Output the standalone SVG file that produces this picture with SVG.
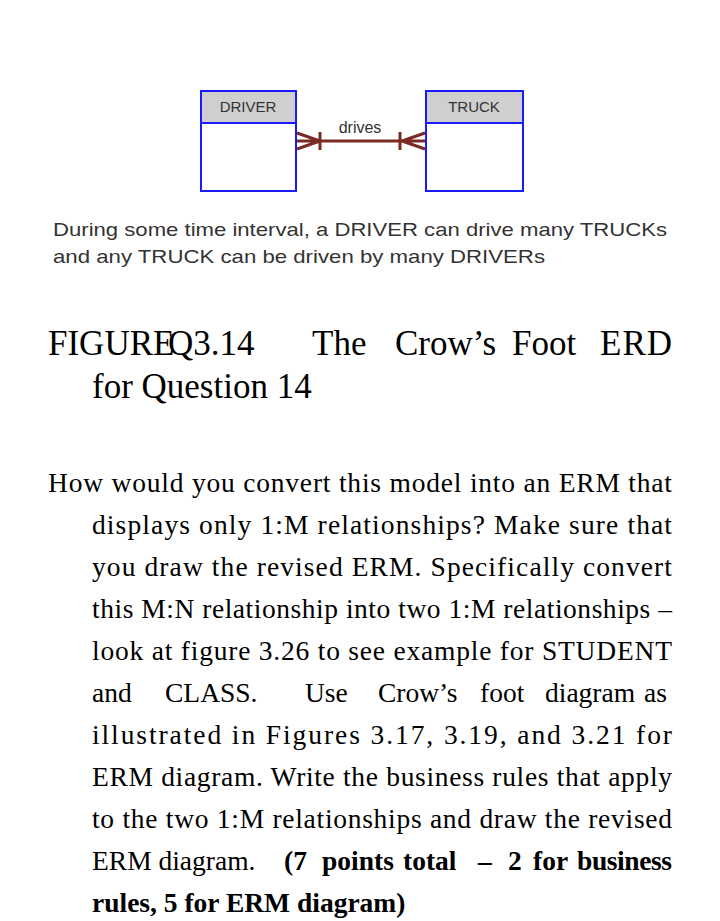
<svg xmlns="http://www.w3.org/2000/svg" width="720" height="921" viewBox="0 0 720 921">
<style>
.box{fill:#fff;stroke:#1a1aff;stroke-width:2}
.hdr{fill:#cfcfcf;stroke:#1a1aff;stroke-width:2}
.lbl{font-family:"Liberation Sans",Arial,sans-serif;font-size:15px;fill:#333;text-anchor:middle}
.rel{stroke:#7a2a22;stroke-width:3;fill:none}
.cap{font-family:"Liberation Sans",Arial,sans-serif;font-size:19px;fill:#333}
.h{font-family:"Liberation Serif","Times New Roman",serif;font-size:35px;fill:#000}
.b{font-family:"Liberation Serif","Times New Roman",serif;font-size:27.5px;fill:#000}
.bb{font-weight:bold}
</style>
<rect width="720" height="921" fill="#fff"/>
<g id="driver"><rect class="box" x="201" y="91" width="95" height="100"/><rect class="hdr" x="201" y="91" width="95" height="32"/><text class="lbl" x="248" y="112">DRIVER</text></g>
<g id="truck"><rect class="box" x="426" y="91" width="97" height="100"/><rect class="hdr" x="426" y="91" width="97" height="32"/><text class="lbl" x="474" y="112">TRUCK</text></g>
<g id="connectors">
<path class="rel" d="M297 141H425M320 132V150M400 132V150M297 133L320 141L297 149M425 133L402 141L425 149"/>
<text class="lbl" x="360" y="133" style="font-size:16px">drives</text>
</g>
<text class="cap" x="53" y="236" textLength="614" lengthAdjust="spacingAndGlyphs">During some time interval, a DRIVER can drive many TRUCKs</text>
<text class="cap" x="53" y="263" textLength="492" lengthAdjust="spacingAndGlyphs">and any TRUCK can be driven by many DRIVERs</text>
<text class="h" y="355"><tspan x="48">FIGURE</tspan> <tspan x="168">Q3.14</tspan> <tspan x="312">The</tspan> <tspan x="395">Crow’s</tspan> <tspan x="512">Foot</tspan> <tspan x="600" textLength="72">ERD</tspan></text>
<text class="h" x="92" y="398">for Question 14</text>
<text class="b" x="48" y="492" textLength="624">How would you convert this model into an ERM that</text>
<text class="b" x="92" y="534" textLength="580">displays only 1:M relationships? Make sure that</text>
<text class="b" x="92" y="576" textLength="580">you draw the revised ERM. Specifically convert</text>
<text class="b" x="92" y="618" textLength="580">this M:N relationship into two 1:M relationships –</text>
<text class="b" x="92" y="660" textLength="580">look at figure 3.26 to see example for STUDENT</text>
<text class="b" y="702"><tspan x="92">and</tspan> <tspan x="165">CLASS.</tspan> <tspan x="305">Use</tspan> <tspan x="378">Crow’s</tspan> <tspan x="480">foot</tspan> <tspan x="545">diagram</tspan> <tspan x="644">as</tspan></text>
<text class="b" x="92" y="744" textLength="580">illustrated in Figures 3.17, 3.19, and 3.21 for</text>
<text class="b" x="92" y="786" textLength="580">ERM diagram. Write the business rules that apply</text>
<text class="b" x="92" y="828" textLength="580">to the two 1:M relationships and draw the revised</text>
<text class="b" x="92" y="870">ERM diagram.</text>
<text class="b bb" y="870"><tspan x="284">(7</tspan> <tspan x="322">points</tspan> <tspan x="403">total</tspan> <tspan x="478">–</tspan> <tspan x="508">2</tspan> <tspan x="533">for</tspan> <tspan x="577" textLength="95">business</tspan></text>
<text class="b bb" x="92" y="912">rules, 5 for ERM diagram)</text>
</svg>
